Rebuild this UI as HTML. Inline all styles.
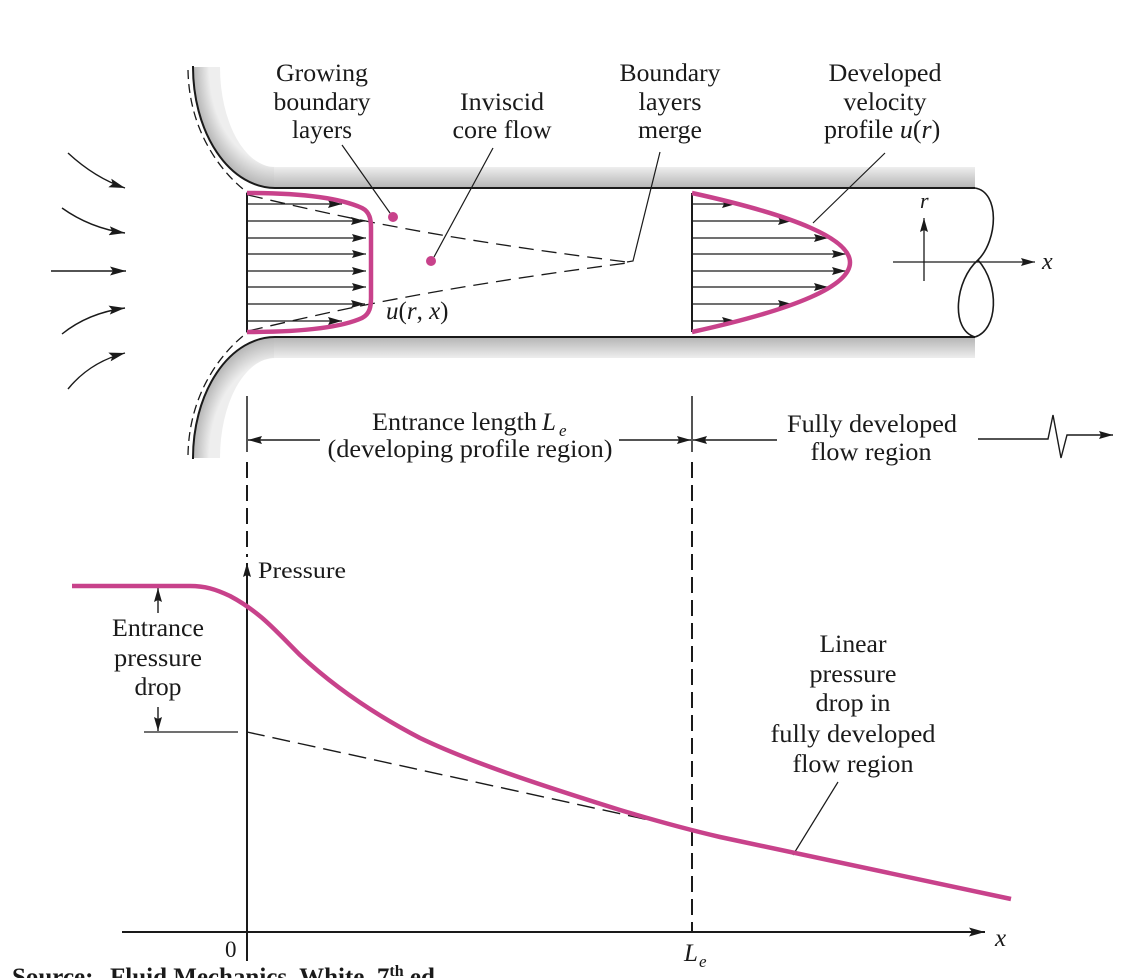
<!DOCTYPE html>
<html><head><meta charset="utf-8">
<style>
html,body{margin:0;padding:0;background:#fff;}
svg{display:block;}
text{font-family:"Liberation Serif",serif;fill:#1a1a1a;}
.it{font-style:italic;}
</style></head><body>
<svg width="1132" height="978" viewBox="0 0 1132 978" xmlns="http://www.w3.org/2000/svg">
<defs>
<linearGradient id="gt" x1="0" y1="167" x2="0" y2="188" gradientUnits="userSpaceOnUse">
<stop offset="0" stop-color="#eeeeee"/><stop offset="1" stop-color="#b4b4b4"/></linearGradient>
<linearGradient id="gb" x1="0" y1="337" x2="0" y2="358" gradientUnits="userSpaceOnUse">
<stop offset="0" stop-color="#b4b4b4"/><stop offset="1" stop-color="#eeeeee"/></linearGradient>
<radialGradient id="rt" cx="275" cy="67" r="121" gradientUnits="userSpaceOnUse" gradientTransform="translate(275 67) scale(0.68 1) translate(-275 -67)">
<stop offset="0.8" stop-color="#eeeeee"/><stop offset="1" stop-color="#b4b4b4"/></radialGradient>
<radialGradient id="rb" cx="275" cy="458" r="121" gradientUnits="userSpaceOnUse" gradientTransform="translate(275 458) scale(0.68 1) translate(-275 -458)">
<stop offset="0.8" stop-color="#eeeeee"/><stop offset="1" stop-color="#b4b4b4"/></radialGradient>
<marker id="a" markerWidth="14" markerHeight="8" refX="14" refY="4" orient="auto" markerUnits="userSpaceOnUse">
<path d="M0,0 L14,4 L0,8 L2,4 z" fill="#1a1a1a"/></marker>
<marker id="b" markerWidth="16" markerHeight="9" refX="16" refY="4.5" orient="auto" markerUnits="userSpaceOnUse">
<path d="M0,0 L16,4.5 L0,9 L3,4.5 z" fill="#1a1a1a"/></marker>
</defs>

<!-- pipe wall shading -->
<path d="M193,67 A82,121 0 0 0 275,188 L275,167 A55,100 0 0 1 220,67 Z" fill="url(#rt)"/>
<rect x="274" y="167" width="701" height="21" fill="url(#gt)"/>
<path d="M193,458 A82,121 0 0 1 275,337 L275,358 A55,100 0 0 0 220,458 Z" fill="url(#rb)"/>
<rect x="274" y="337" width="701" height="21" fill="url(#gb)"/>

<!-- pipe wall lines -->
<g fill="none" stroke="#1a1a1a" stroke-width="2">
<path d="M193,66 A82,121 0 0 0 275,188 L975,188"/>
<path d="M193,459 A82,121 0 0 1 275,337 L975,337"/>
<path d="M975,188 C1000,192 998,240 978,260 C955,280 950,330 975,337" stroke-width="1.6"/>
<path d="M978,260 C1000,285 998,330 975,337" stroke-width="1.6"/>
</g>
<!-- outer dashed streamlines -->
<g fill="none" stroke="#1a1a1a" stroke-width="1.3" stroke-dasharray="9 5">
<path d="M188,70 C189,130 220,172 248,193"/>
<path d="M188,455 C189,395 220,353 248,332"/>
</g>

<!-- incoming arrows -->
<g fill="none" stroke="#1a1a1a" stroke-width="1.4" marker-end="url(#b)">
<path d="M68,153 Q95,178 125,188"/>
<path d="M62,208 Q90,228 125,233"/>
<path d="M51,271 L126,271"/>
<path d="M62,334 Q88,313 125,308"/>
<path d="M68,389 Q90,362 125,353"/>
</g>

<!-- developing profile -->
<line x1="247" y1="193" x2="247" y2="332" stroke="#1a1a1a" stroke-width="2"/>
<g stroke="#1a1a1a" stroke-width="1.3" marker-end="url(#a)">
<line x1="247" y1="204" x2="342" y2="204"/>
<line x1="247" y1="221" x2="365" y2="221"/>
<line x1="247" y1="238" x2="366" y2="238"/>
<line x1="247" y1="254" x2="366" y2="254"/>
<line x1="247" y1="271" x2="366" y2="271"/>
<line x1="247" y1="287" x2="366" y2="287"/>
<line x1="247" y1="304" x2="365" y2="304"/>
<line x1="247" y1="321" x2="342" y2="321"/>
</g>
<!-- boundary layer dashed -->
<g fill="none" stroke="#1a1a1a" stroke-width="1.3" stroke-dasharray="15 8">
<path d="M248,195 C330,214 420,236 627,262"/>
<path d="M248,331 C330,312 420,290 627,263"/>
</g>
<path d="M247,193 C300,193 340,198 362,208 C370,212 371,220 371,228 L371,298 C371,306 370,314 362,318 C340,328 300,332 247,332" fill="none" stroke="#c8428b" stroke-width="4.5" stroke-linejoin="round"/>

<!-- developed profile -->
<line x1="692" y1="193" x2="692" y2="332" stroke="#1a1a1a" stroke-width="2"/>
<g stroke="#1a1a1a" stroke-width="1.3" marker-end="url(#a)">
<line x1="692" y1="204" x2="736" y2="204"/>
<line x1="692" y1="221" x2="792" y2="221"/>
<line x1="692" y1="238" x2="828" y2="238"/>
<line x1="692" y1="254" x2="846" y2="254"/>
<line x1="692" y1="271" x2="846" y2="271"/>
<line x1="692" y1="287" x2="828" y2="287"/>
<line x1="692" y1="304" x2="792" y2="304"/>
<line x1="692" y1="321" x2="736" y2="321"/>
</g>
<path d="M692,193 Q1008,262.5 692,332" fill="none" stroke="#c8428b" stroke-width="4.5"/>

<!-- dots -->
<circle cx="393" cy="217" r="5" fill="#c8428b"/>
<circle cx="431" cy="261" r="5" fill="#c8428b"/>

<!-- leaders -->
<g stroke="#1a1a1a" stroke-width="1.2" fill="none">
<line x1="342" y1="145" x2="390" y2="213"/>
<line x1="493" y1="148" x2="434" y2="257"/>
<path d="M627,262 L633,261 L660,152"/>
<line x1="885" y1="153" x2="813" y2="223"/>
<line x1="838" y1="782" x2="793" y2="855"/>
</g>

<!-- r-x axes in pipe -->
<line x1="924" y1="281" x2="924" y2="218" stroke="#1a1a1a" stroke-width="1.3" marker-end="url(#a)"/>
<line x1="893" y1="262" x2="1035" y2="262" stroke="#1a1a1a" stroke-width="1.3" marker-end="url(#a)"/>
<text x="920" y="208" font-size="22" class="it">r</text>
<text x="1042" y="269" font-size="24" class="it">x</text>

<!-- top labels -->
<g font-size="25" text-anchor="middle">
<text x="322" y="81" textLength="92" lengthAdjust="spacingAndGlyphs">Growing</text>
<text x="322" y="110" textLength="97" lengthAdjust="spacingAndGlyphs">boundary</text>
<text x="322" y="138" textLength="60" lengthAdjust="spacingAndGlyphs">layers</text>
<text x="502" y="110" textLength="84" lengthAdjust="spacingAndGlyphs">Inviscid</text>
<text x="502" y="138" textLength="99" lengthAdjust="spacingAndGlyphs">core flow</text>
<text x="670" y="81" textLength="101" lengthAdjust="spacingAndGlyphs">Boundary</text>
<text x="670" y="110" textLength="63" lengthAdjust="spacingAndGlyphs">layers</text>
<text x="670" y="138" textLength="64" lengthAdjust="spacingAndGlyphs">merge</text>
<text x="885" y="81" textLength="113" lengthAdjust="spacingAndGlyphs">Developed</text>
<text x="885" y="110" textLength="83" lengthAdjust="spacingAndGlyphs">velocity</text>
</g>
<text x="824" y="138" font-size="26">profile <tspan class="it">u</tspan>(<tspan class="it">r</tspan>)</text>
<text x="386" y="319" font-size="25"><tspan class="it">u</tspan>(<tspan class="it">r</tspan>, <tspan class="it">x</tspan>)</text>

<!-- dimension lines -->
<g stroke="#1a1a1a" stroke-width="1.5">
<line x1="247" y1="396" x2="247" y2="452"/>
<line x1="692" y1="396" x2="692" y2="452"/>
</g>
<g stroke="#1a1a1a" stroke-width="1.4" fill="none" marker-end="url(#a)">
<line x1="320" y1="440" x2="248" y2="440"/>
<line x1="619" y1="440" x2="691" y2="440"/>
<line x1="777" y1="440" x2="693" y2="440"/>
<path d="M978,439 L1048,439 L1053,415 L1061,458 L1067,435 L1113,435"/>
</g>
<g stroke="#1a1a1a" stroke-width="2" stroke-dasharray="16 7">
<line x1="247" y1="462" x2="247" y2="557"/>
<line x1="692" y1="462" x2="692" y2="932"/>
</g>
<text x="372" y="430" font-size="25" textLength="165" lengthAdjust="spacingAndGlyphs">Entrance length</text>
<text x="542" y="430" font-size="25" class="it">L</text>
<text x="559" y="436" font-size="17" class="it">e</text>
<text x="470" y="457" font-size="25" text-anchor="middle" textLength="285" lengthAdjust="spacingAndGlyphs">(developing profile region)</text>
<text x="872" y="432" font-size="25" text-anchor="middle" textLength="170" lengthAdjust="spacingAndGlyphs">Fully developed</text>
<text x="871" y="460" font-size="25" text-anchor="middle" textLength="121" lengthAdjust="spacingAndGlyphs">flow region</text>

<!-- pressure plot axes -->
<line x1="247" y1="961" x2="247" y2="563" stroke="#1a1a1a" stroke-width="2" marker-end="url(#a)"/>
<line x1="122" y1="932" x2="985" y2="932" stroke="#1a1a1a" stroke-width="2" marker-end="url(#b)"/>
<text x="258" y="578" font-size="23" textLength="88" lengthAdjust="spacingAndGlyphs">Pressure</text>
<text x="225" y="957" font-size="23">0</text>
<text x="684" y="961" font-size="25" class="it">L</text>
<text x="699" y="967" font-size="17" class="it">e</text>
<text x="995" y="946" font-size="25" class="it">x</text>

<!-- entrance pressure drop -->
<line x1="144" y1="732" x2="238" y2="732" stroke="#1a1a1a" stroke-width="1.3"/>
<line x1="158" y1="613" x2="158" y2="588" stroke="#1a1a1a" stroke-width="1.4" marker-end="url(#a)"/>
<line x1="158" y1="707" x2="158" y2="731" stroke="#1a1a1a" stroke-width="1.4" marker-end="url(#a)"/>
<g font-size="25" text-anchor="middle">
<text x="158" y="636" textLength="92" lengthAdjust="spacingAndGlyphs">Entrance</text>
<text x="158" y="666" textLength="88" lengthAdjust="spacingAndGlyphs">pressure</text>
<text x="158" y="695" textLength="47" lengthAdjust="spacingAndGlyphs">drop</text>
<text x="853" y="652" textLength="67" lengthAdjust="spacingAndGlyphs">Linear</text>
<text x="853" y="682" textLength="87" lengthAdjust="spacingAndGlyphs">pressure</text>
<text x="853" y="711" textLength="75" lengthAdjust="spacingAndGlyphs">drop in</text>
<text x="853" y="742" textLength="165" lengthAdjust="spacingAndGlyphs">fully developed</text>
<text x="853" y="772" textLength="121" lengthAdjust="spacingAndGlyphs">flow region</text>
</g>

<!-- dashed linear extrapolation -->
<line x1="247" y1="732" x2="690" y2="829" stroke="#1a1a1a" stroke-width="1.4" stroke-dasharray="18 8"/>
<!-- pressure curve -->
<path d="M72,586 L190,586 C205,586 215,589 230,596 C260,612 275,630 300,655 C330,683 370,712 420,738 C470,762 540,785 620,810 C660,822 690,830 720,837 L1011,899" fill="none" stroke="#c8428b" stroke-width="4.5" stroke-linejoin="round"/>

<!-- cut-off source caption -->
<text x="12" y="985" font-size="25" font-weight="bold">Source:</text>
<text x="110" y="985" font-size="25" font-weight="bold">Fluid Mechanics, White, 7<tspan font-size="16" dy="-9">th</tspan><tspan dy="9"> ed.</tspan></text>
</svg>
</body></html>
